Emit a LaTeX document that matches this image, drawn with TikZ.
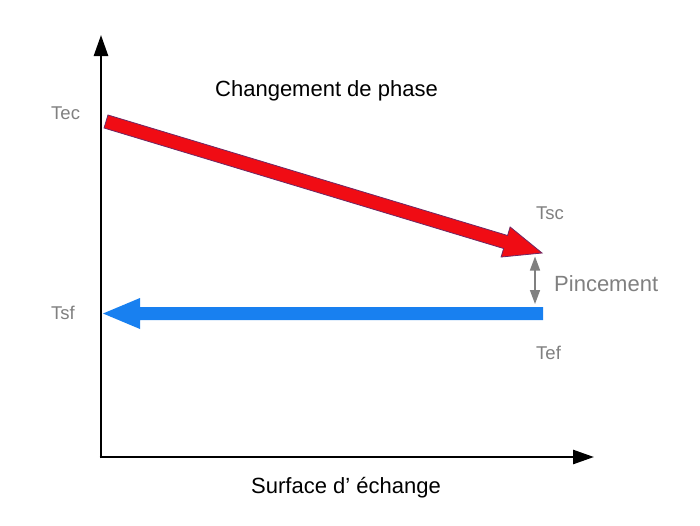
\documentclass[tikz,border=0pt]{standalone}
\usepackage{fontspec}
\setmainfont{Liberation Sans}
\usetikzlibrary{arrows.meta}
\definecolor{redfill}{RGB}{240,12,20}
\definecolor{redline}{RGB}{110,40,100}
\definecolor{bluefill}{RGB}{24,128,240}
\definecolor{labgray}{RGB}{128,128,128}
\begin{document}
\begin{tikzpicture}[x=1pt,y=-1pt,
  axis/.style={line width=2.6pt,-{Triangle[length=21pt,width=14pt]}},
  lab/.style={text=labgray,font=\fontsize{18.5}{20}\selectfont,anchor=base west,inner sep=0pt},
  big/.style={font=\fontsize{22}{24}\selectfont,anchor=base west,inner sep=0pt},
  pinch/.style={draw=labgray,line width=1.6pt,{Triangle[length=14pt,width=10pt]}-{Triangle[length=14pt,width=10pt]}}]
\useasboundingbox (0,0) rectangle (700,525);
\fill[white] (0,0) rectangle (700,525);
% axes
\coordinate (Oy) at (101,458.3);
\coordinate (Ytop) at (101,35);
\coordinate (Ox) at (99.7,457);
\coordinate (Xend) at (594,457);
\draw[axis] (Oy) -- (Ytop);
\draw[axis] (Ox) -- (Xend);
% red arrow
\filldraw[fill=redfill,draw=redline,line width=0.8pt,line join=miter]
  (107.96,114.99) -- (507.56,235.49) -- (510.13,226.97) -- (542,253)
  -- (501.07,257.03) -- (503.64,248.51) -- (104.04,128.01) -- cycle;
% blue arrow
\fill[bluefill] (103,313.5) -- (140,298) -- (140,307) -- (543,307)
  -- (543,320) -- (140,320) -- (140,329) -- cycle;
% pinch
\coordinate (Ptop) at (535,256.5);
\coordinate (Pbot) at (535,304);
\draw[pinch] (Ptop) -- (Pbot);
% texts
\node[big] (title) at (215,96) {Changement de phase};
\node[big] (xlab) at (251,493) {Surface d’ échange};
\node[lab] (tec) at (51,119) {Tec};
\node[lab] (tsf) at (51,319) {Tsf};
\node[lab] (tsc) at (536,219) {Tsc};
\node[lab] (tef) at (536,359) {Tef};
\node[lab,font=\fontsize{22}{24}\selectfont] (pin) at (554,291) {Pincement};
\end{tikzpicture}
\end{document}
